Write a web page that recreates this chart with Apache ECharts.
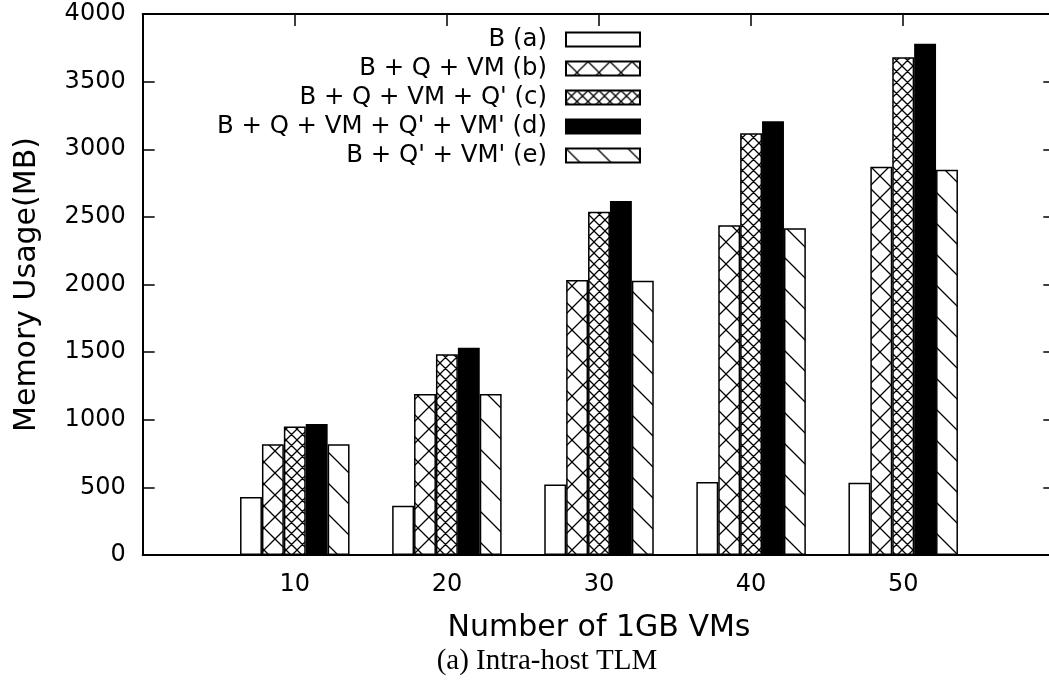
<!DOCTYPE html>
<html>
<head>
<meta charset="utf-8">
<script src="https://cdn.jsdelivr.net/npm/echarts@6/dist/echarts.min.js"></script>
<style>
  html, body { margin: 0; padding: 0; background: #fff; }
  #chart { width: 1049px; height: 697px; }
</style>
</head>
<body>
<div id="chart"></div>
<script>
var categories = ['10', '20', '30', '40', '50'];
var seriesNames = ['B (a)', 'B + Q + VM (b)', "B + Q + VM + Q' (c)", "B + Q + VM + Q' + VM' (d)", "B + Q' + VM' (e)"];
var valuesA = [429, 365, 522, 540, 535];
var valuesB = [818, 1190, 2033, 2438, 2871];
var valuesC = [951, 1484, 2538, 3118, 3680];
var valuesD = [968, 1533, 2617, 3207, 3780];
var valuesE = [818, 1190, 2028, 2416, 2849];
var yTicks = [0, 500, 1000, 1500, 2000, 2500, 3000, 3500, 4000];

// hatch tiles: 'x' = both diagonals, '\\' = one diagonal
function makePattern(kind, p) {
  var c = document.createElement('canvas');
  c.width = p;
  c.height = p;
  var ctx = c.getContext('2d');
  ctx.fillStyle = '#fff';
  ctx.fillRect(0, 0, p, p);
  ctx.strokeStyle = '#000';
  ctx.lineWidth = 1.3;
  ctx.beginPath();
  [-p, 0, p].forEach(function (o) {
    ctx.moveTo(o - 1, -1);
    ctx.lineTo(o + p + 1, p + 1);
    if (kind === 'x') {
      ctx.moveTo(o + p + 1, -1);
      ctx.lineTo(o - 1, p + 1);
    }
  });
  ctx.stroke();
  return { image: c, repeat: 'repeat' };
}

var fills = [
  '#ffffff',
  makePattern('x', 22),
  makePattern('x', 11),
  '#000000',
  makePattern('\\', 31)
];
var allValues = [valuesA, valuesB, valuesC, valuesD, valuesE];

var font = 'DejaVu Sans';
var axisLine = { show: true, onZero: false, lineStyle: { color: '#000', width: 2 } };
var tick = { show: true, inside: true, length: 12, lineStyle: { color: '#000', width: 1.5 } };

var series = allValues.map(function (vals, s) {
  return {
    name: seriesNames[s],
    type: 'bar',
    barWidth: 21.9,
    barGap: '0%',
    itemStyle: { color: fills[s], borderColor: '#000', borderWidth: 1.5 },
    data: vals.map(function (v, i) { return [i, v]; })
  };
});

var chart = echarts.init(document.getElementById('chart'));
chart.setOption({
  animation: false,
  backgroundColor: '#fff',
  grid: { left: 142.7, top: 14, width: 912.6, height: 541, outerBoundsMode: 'none', containLabel: false },
  legend: {
    orient: 'vertical',
    align: 'right',
    right: 408,
    top: 25,
    padding: 0,
    itemGap: 0,
    itemWidth: 74,
    itemHeight: 14,
    icon: 'rect',
    data: seriesNames,
    textStyle: { fontFamily: font, fontSize: 24.4, color: '#000', lineHeight: 29, padding: [0, 14, 0, 0] }
  },
  xAxis: [{
    type: 'value',
    min: -1,
    max: 5,
    interval: 1,
    position: 'bottom',
    name: 'Number of 1GB VMs',
    nameLocation: 'middle',
    nameGap: 58,
    nameTextStyle: { fontFamily: font, fontSize: 30, color: '#000' },
    axisLine: axisLine,
    axisTick: tick,
    axisLabel: {
      fontFamily: font, fontSize: 24, color: '#000', margin: 18,
      formatter: function (v) { return categories[v] || ''; }
    },
    splitLine: { show: false }
  }, {
    type: 'value',
    min: -1,
    max: 5,
    interval: 1,
    position: 'top',
    axisLine: axisLine,
    axisTick: tick,
    axisLabel: { show: false },
    splitLine: { show: false }
  }],
  yAxis: [{
    type: 'value',
    min: yTicks[0],
    max: yTicks[yTicks.length - 1],
    interval: 500,
    position: 'left',
    name: 'Memory Usage(MB)',
    nameLocation: 'middle',
    nameGap: 100,
    nameTextStyle: { fontFamily: font, fontSize: 30, color: '#000' },
    axisLine: axisLine,
    axisTick: tick,
    axisLabel: {
      fontFamily: font, fontSize: 24, color: '#000', margin: 17,
      formatter: function (v) { return String(v); }
    },
    splitLine: { show: false }
  }, {
    type: 'value',
    min: yTicks[0],
    max: yTicks[yTicks.length - 1],
    interval: 500,
    position: 'right',
    axisLine: axisLine,
    axisTick: tick,
    axisLabel: { show: false },
    splitLine: { show: false }
  }],
  graphic: [{
    type: 'text',
    x: 547,
    y: 661,
    style: {
      text: '(a) Intra-host TLM',
      font: '29px "Liberation Serif"',
      fill: '#000',
      textAlign: 'center',
      textVerticalAlign: 'middle'
    }
  }],
  series: series
});
</script>
</body>
</html>
